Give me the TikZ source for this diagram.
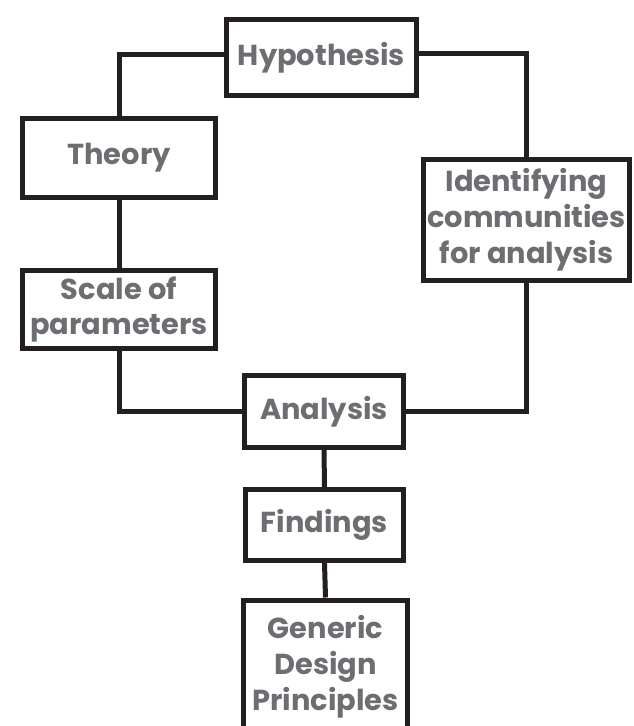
\documentclass[tikz,border=0pt]{standalone}
\usepackage{fontspec}
\setmainfont{Poppins}
\definecolor{txtgray}{RGB}{109,110,113}
\definecolor{linecol}{RGB}{35,31,32}
\begin{document}
\begin{tikzpicture}[x=1bp,y=-1bp,
  box/.style={draw=linecol, line width=5bp, fill=white, inner sep=0pt,
    text=txtgray, align=center, font=\fontsize{29}{36}\selectfont\bfseries},
  link/.style={draw=linecol, line width=5bp}]
\clip (0,0) rectangle (634,726);
\fill[white] (0,0) rectangle (634,726);
% nodes
\node[box, minimum width=190bp, minimum height=76bp] (hyp) at (321.5,57.5) {Hypothesis};
\node[box, minimum width=193bp, minimum height=79bp] (theory) at (119,158) {Theory};
\node[box, minimum width=193bp, minimum height=78bp] (scale) at (119,309.5) {Scale of\\parameters};
\node[box, minimum width=206bp, minimum height=121bp] (ident) at (526.5,220) {Identifying\\communities\\for analysis};
\node[box, minimum width=159bp, minimum height=72bp] (analysis) at (324,411.5) {Analysis};
\node[box, minimum width=158bp, minimum height=71bp] (findings) at (324.5,525) {Findings};
\node[box, minimum width=164bp, minimum height=134bp] (generic) at (325.5,667) {Generic\\Design\\Principles};
% connectors
\draw[link] ([yshift=3bp]hyp.west) -| (theory.north);
\draw[link] ([yshift=4bp]hyp.east) -| (ident.north);
\draw[link] (theory.south) -- (scale.north);
\draw[link] (scale.south) |- (analysis.west);
\draw[link] (analysis.east) -| (ident.south);
\draw[link] (analysis.south) -- (findings.north);
\draw[link] (findings.south) -- (generic.north);
\end{tikzpicture}
\end{document}
